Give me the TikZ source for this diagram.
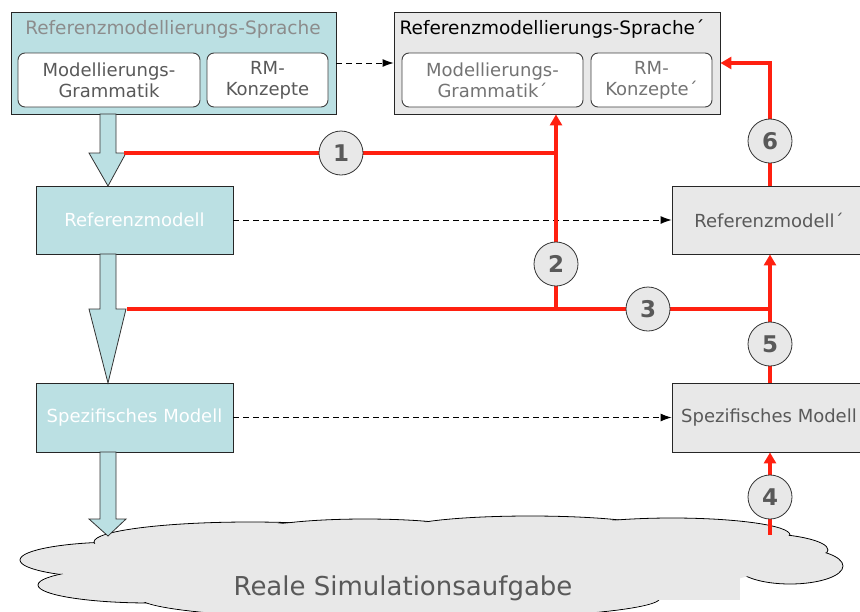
\documentclass[tikz,border=0pt]{standalone}
\usepackage{fontspec}
\setmainfont{DejaVu Sans}
\usetikzlibrary{arrows.meta,calc,positioning}
\definecolor{BoxTeal}{RGB}{187,224,227}
\definecolor{BoxGray}{RGB}{232,232,232}
\definecolor{TextGray}{RGB}{89,89,89}
\definecolor{LightText}{RGB}{140,140,140}
\definecolor{FlowRed}{RGB}{255,32,16}

\tikzset{
  outer/.style={draw=black!85,line width=0.9pt,inner sep=0pt},
  inner/.style={draw=black!75,fill=white,rounded corners=7pt,line width=0.9pt,
    minimum height=54pt,inner sep=0pt,align=center,text=TextGray,font=\fontsize{18}{21}\selectfont},
  model/.style={outer,minimum height=68pt,font=\fontsize{18}{21}\selectfont},
  step num/.style={circle,draw=black!80,fill=BoxGray,line width=0.8pt,minimum size=44pt,
    inner sep=0pt,text=TextGray,font=\fontsize{23}{23}\bfseries\selectfont},
  redline/.style={FlowRed,line width=3.6pt},
  redarrow/.style={redline,-{Triangle[length=11pt,width=12pt]}},
  dasharrow/.style={dash pattern=on 6pt off 4pt,line width=0.9pt,-{Latex[length=11pt,width=8pt]}},
  bigarrow/.style={draw=black!80,fill=BoxTeal,line width=0.8pt}
}
% block arrow at x=108: shaft top, head start, tip
\newcommand\downarrowblk[3]{%
  \draw[bigarrow] (100,#1) -- (116,#1) -- (116,#2) -- (126,#2) -- (108,#3)
    -- (89,#2) -- (100,#2) -- cycle;}

\begin{document}
\begin{tikzpicture}[x=1pt,y=-1pt]
\useasboundingbox (0,0) rectangle (860,611);

% the real task as a cloud
\begin{scope}
\foreach \cx/\cy/\rx/\ry in {120/560/100/18, 150/585/112/18, 250/542/156/20,
    365/533/112/14, 530/530/128/14, 672/535/118/17, 750/550/78/17,
    790/566/53/18, 610/578/125/16, 400/598/260/22}
  \draw[fill=BoxGray,line width=0.8pt] (\cx,\cy) ellipse [x radius=\rx,y radius=\ry];
\foreach \cx/\cy/\rx/\ry in {120/560/100/18, 150/585/112/18, 250/542/156/20,
    365/533/112/14, 530/530/128/14, 672/535/118/17, 750/550/78/17,
    790/566/53/18, 610/578/125/16, 400/598/260/22}
  \fill[BoxGray] (\cx,\cy) ellipse [x radius=\rx-1.2,y radius=\ry-1.2];
\fill[BoxGray] (430,568) ellipse [x radius=330,y radius=30];
\fill[BoxGray] (250,552) rectangle (740,600);
\end{scope}
\node[text=TextGray,font=\fontsize{26}{28}\selectfont] (task) at (403,588) {Reale Simulationsaufgabe};

% left column
\node[outer,fill=BoxTeal,minimum width=325pt,minimum height=102pt] (lang) at (173.5,63) {};
\node[text=LightText,font=\fontsize{18.5}{21}\selectfont] (langtitle) at (173,29) {Referenzmodellierungs-Sprache};
\node[inner,minimum width=182pt] (gram) at (109,80) {Modellierungs-\\Grammatik};
\node[inner,minimum width=121pt] (konz) at (267.5,80) {RM-\\Konzepte};

\node[model,fill=BoxTeal,minimum width=197pt,text=white] (ref) at (134.5,220) {Referenzmodell};
\node[model,fill=BoxTeal,minimum width=197pt,minimum height=69pt,text=white] (spez) at (134.5,417.5) {Spezifisches Modell};

% right column
\node[outer,fill=BoxGray,minimum width=326pt,minimum height=102pt] (lang2) at (557,63) {};
\node[text=black,font=\fontsize{18.5}{21}\selectfont] (lang2title) at (552,29) {Referenzmodellierungs-Sprache´};
\node[inner,minimum width=181pt,text=black!55] (gram2) at (492.5,80) {Modellierungs-\\Grammatik´};
\node[inner,minimum width=121pt,text=black!55] (konz2) at (651.5,80) {RM-\\Konzepte´};

\node[model,fill=BoxGray,minimum width=194pt,text=TextGray] (ref2) at (769,220) {Referenzmodell´};
\node[model,fill=BoxGray,minimum width=194pt,minimum height=69pt,text=TextGray] (spez2) at (769,417.5) {Spezifisches Modell};

% derivation arrows
\downarrowblk{114}{153}{186}
\downarrowblk{254}{309}{383}
\downarrowblk{452}{519}{536}

% dashed correspondences
\draw[dasharrow] (lang.east) -- (lang2.west);
\draw[dasharrow] (ref.east) -- (ref2.west);
\draw[dasharrow] (spez.east) -- (spez2.west);

% adaptation steps
\coordinate (s1) at (124,153);
\coordinate (j1) at (556,153);
\coordinate (s3) at (127,309);
\coordinate (j2) at (556,309);
\coordinate (j3) at (770,309);
\coordinate (c4) at (770,535);

\draw[redline] (s1) -- (j1);
\draw[redarrow] (j2) -- (j2 |- lang2.south);
\draw[redline] (s3) -- (j3);
\draw[redarrow] (c4) -- (c4 |- spez2.south);
\draw[redarrow] (c4 |- spez2.north) -- (c4 |- ref2.south);
\draw[redarrow] (c4 |- ref2.north) |- (lang2.east);

\node[step num] (n1) at (341,153) {1};
\node[step num] (n2) at (556,264) {2};
\node[step num] (n3) at (648,309) {3};
\node[step num] (n4) at (770,497) {4};
\node[step num] (n5) at (770,344) {5};
\node[step num] (n6) at (770,141) {6};
\end{tikzpicture}
\end{document}
